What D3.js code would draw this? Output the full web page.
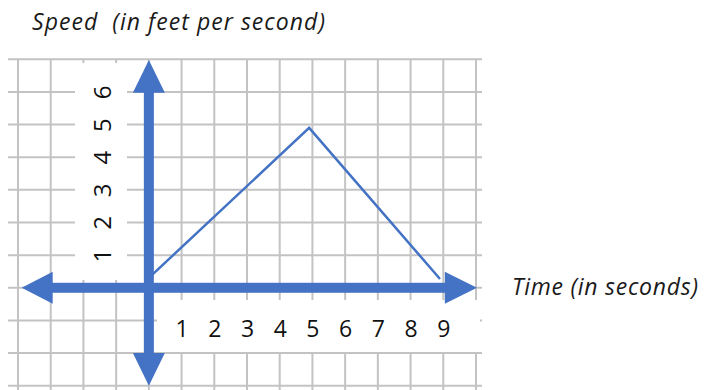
<!DOCTYPE html>
<html>
<head>
<meta charset="utf-8">
<script src="https://cdn.jsdelivr.net/npm/d3@7"></script>
<style>
  body { margin: 0; background: #fff; }
  svg { display: block; font-family: "Open Sans", Lato, sans-serif; }
</style>
</head>
<body>
<div id="chart"></div>
<script>
  // data

  const timeValues = [0.05, 4.9, 8.9];
  const speedValues = [0.35, 4.9, 0.27];
  const xTickLabels = [1, 2, 3, 4, 5, 6, 7, 8, 9];
  const yTickLabels = [1, 2, 3, 4, 5, 6];
  const gridX = d3.range(-4, 11);
  const gridY = d3.range(-3, 8);

  // config

  const width = 706;
  const height = 390;
  const blue = "#4472c4";
  const gridColor = "#c3c3c3";
  const font = "'Open Sans', Lato, sans-serif";

  const points = timeValues.map((t, i) => ({ t: t, s: speedValues[i] }));

  // scales

  const xScale = d3.scaleLinear()
    .domain([-4, 10])
    .range([18, 476]);

  const yScale = d3.scaleLinear()
    .domain([-3, 7])
    .range([385.7, 59.3]);

  const svg = d3.select("#chart")
    .append("svg")
    .attr("width", width)
    .attr("height", height)
    .attr("viewBox", [0, 0, width, height]);

  // grid

  svg.append("g")
    .selectAll("line")
    .data(gridX)
    .join("line")
    .attr("x1", d => xScale(d))
    .attr("x2", d => xScale(d))
    .attr("y1", yScale(7))
    .attr("y2", height)
    .attr("stroke", gridColor)
    .attr("stroke-width", 2);

  svg.append("g")
    .selectAll("line")
    .data(gridY)
    .join("line")
    .attr("x1", 8)
    .attr("x2", 482)
    .attr("y1", d => yScale(d))
    .attr("y2", d => yScale(d))
    .attr("stroke", gridColor)
    .attr("stroke-width", 2);

  // white patches behind the tick numbers

  svg.append("rect")
    .attr("x", 75).attr("y", 63)
    .attr("width", 52).attr("height", 217)
    .attr("fill", "#fff");

  svg.append("rect")
    .attr("x", 157).attr("y", 300)
    .attr("width", 323).attr("height", 52)
    .attr("fill", "#fff");

  // speed line

  const line = d3.line()
    .x(d => xScale(d.t))
    .y(d => yScale(d.s));

  svg.append("path")
    .attr("d", line(points))
    .attr("fill", "none")
    .attr("stroke", blue)
    .attr("stroke-width", 2.5)
    .attr("stroke-linejoin", "miter");

  // thick axes with arrow heads

  const shaft = 5;
  const head = 16;
  const axes = svg.append("g").attr("fill", blue);

  const x0 = xScale(0), y0 = yScale(0);
  const yTop = yScale(7) + 0.7, yBot = yScale(-3);
  const yTopBase = yScale(6) + 0.7, yBotBase = yScale(-2);
  axes.append("rect")
    .attr("x", x0 - shaft).attr("width", shaft * 2)
    .attr("y", yTopBase - 1).attr("height", yBotBase - yTopBase + 2);
  axes.append("path")
    .attr("d", `M${x0},${yTop}L${x0 + head},${yTopBase}L${x0 - head},${yTopBase}Z`);
  axes.append("path")
    .attr("d", `M${x0},${yBot}L${x0 + head},${yBotBase}L${x0 - head},${yBotBase}Z`);

  const xLeft = xScale(-4) + 3.7, xRight = xScale(10) + 1;
  const xLeftBase = xScale(-3) + 2, xRightBase = xScale(9) + 1.5;
  axes.append("rect")
    .attr("y", y0 - shaft).attr("height", shaft * 2)
    .attr("x", xLeftBase - 1).attr("width", xRightBase - xLeftBase + 2);
  axes.append("path")
    .attr("d", `M${xLeft},${y0}L${xLeftBase},${y0 - head}L${xLeftBase},${y0 + head}Z`);
  axes.append("path")
    .attr("d", `M${xRight},${y0}L${xRightBase},${y0 - head}L${xRightBase},${y0 + head}Z`);

  // tick numbers

  const xAxis = d3.axisBottom(xScale)
    .tickValues(xTickLabels)
    .tickSize(0)
    .tickPadding(0);

  svg.append("g")
    .attr("transform", "translate(0, 337)")
    .call(xAxis)
    .call(g => g.select(".domain").remove())
    .call(g => g.selectAll(".tick text")
      .attr("dy", 0)
      .attr("y", 0)
      .attr("fill", "#111")
      .style("font-family", font)
      .style("font-size", "23px"));

  const yAxis = d3.axisLeft(yScale)
    .tickValues(yTickLabels)
    .tickSize(0)
    .tickPadding(0);

  svg.append("g")
    .attr("transform", "translate(111, 0)")
    .call(yAxis)
    .call(g => g.select(".domain").remove())
    .call(g => g.selectAll(".tick text")
      .attr("x", 0)
      .attr("dy", 0)
      .attr("text-anchor", "middle")
      .attr("transform", "rotate(-90)")
      .attr("fill", "#111")
      .style("font-family", font)
      .style("font-size", "24px"));

  // titles

  svg.append("text")
    .attr("x", 32)
    .attr("y", 30)
    .attr("fill", "#1a1a1a")
    .attr("textLength", 293)
    .attr("lengthAdjust", "spacing")
    .style("font-style", "italic")
    .style("font-size", "23px")
    .style("white-space", "pre")
    .text("Speed  (in feet per second)");

  svg.append("text")
    .attr("x", 512)
    .attr("y", 295)
    .attr("fill", "#1a1a1a")
    .attr("textLength", 186)
    .attr("lengthAdjust", "spacing")
    .style("font-style", "italic")
    .style("font-size", "23px")
    .text("Time (in seconds)");
</script>
</body>
</html>
